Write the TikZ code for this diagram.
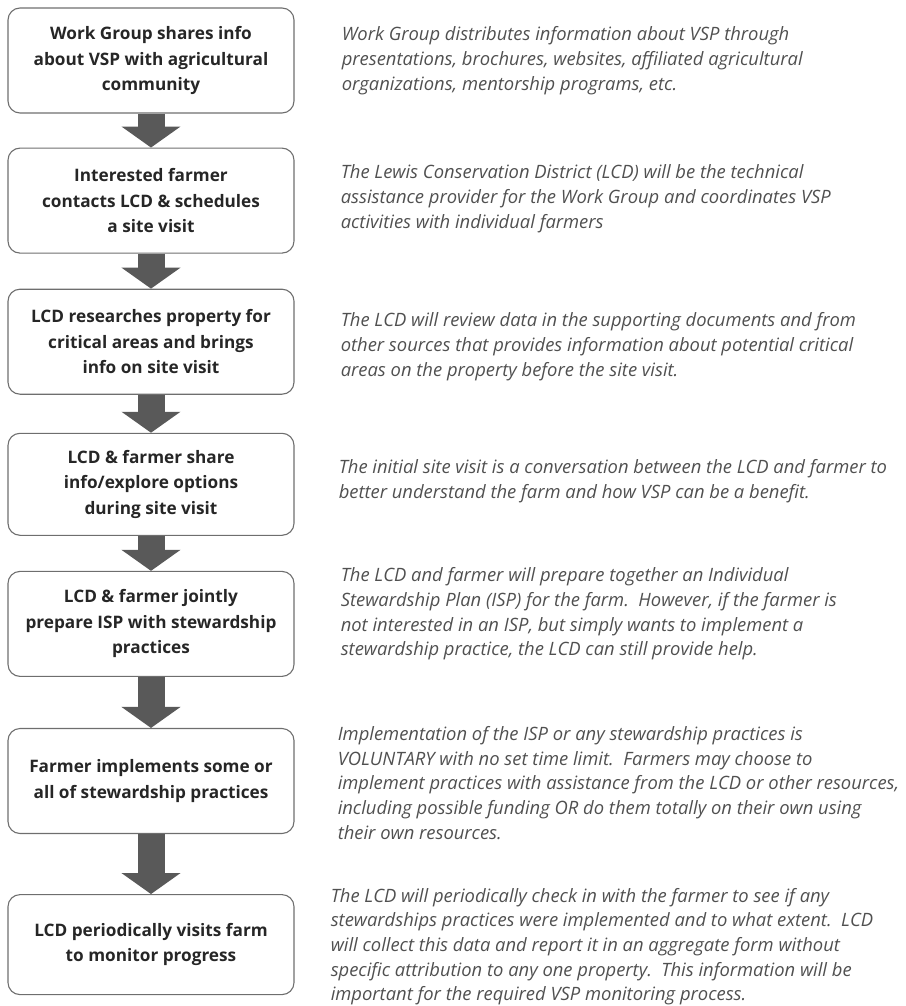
\documentclass[tikz,border=0pt]{standalone}
\usepackage{fontspec}
\setmainfont{Open Sans}
\usetikzlibrary{arrows.meta, positioning}

\definecolor{boxline}{HTML}{6E6E6E}
\definecolor{flowgray}{HTML}{595959}
\definecolor{notegray}{HTML}{505050}

\begin{document}
\begin{tikzpicture}
  [x=1pt, y=-1pt,
  % step box
  stepbox/.style = {rectangle,
    rounded corners = 12pt,
    draw = boxline, line width = 1.1pt,
    minimum width = 286pt,
    minimum height = 105pt,
    align = center, text = black!85,
    font = \fontsize{17.2}{25.5}\selectfont\bfseries},
  % note text
  note/.style = {align = left, inner sep = 0pt,
    text = notegray,
    font = \fontsize{18.4}{24.7}\selectfont\itshape},
  % fat arrow
  flow/.style = {draw = flowgray, line width = 27pt,
    -{Triangle[width = 58pt, length = 21pt]}},
  ]

  \useasboundingbox (0,0) rectangle (905,1006);

  % steps
  \node [stepbox] (share) at (151,60.5) {Work Group shares info\\about VSP with agricultural\\community};
  \node [stepbox, below = 34pt of share] (contact) {Interested farmer\\contacts LCD \& schedules\\a site visit};
  \node [stepbox, below = 35pt of contact] (research) {LCD researches property for\\critical areas and brings\\info on site visit};
  \node [stepbox, below = 38pt of research, minimum height = 102pt] (visit) {LCD \& farmer share\\info/explore options\\during site visit};
  \node [stepbox, below = 35pt of visit] (isp) {LCD \& farmer jointly\\prepare ISP with stewardship\\practices};
  \node [stepbox, below = 51pt of isp] (implement) {Farmer implements some or\\all of stewardship practices};
  \node [stepbox, below = 60pt of implement, minimum height = 100pt] (monitor) {LCD periodically visits farm\\to monitor progress};

  % notes
  \node [note, right = 47pt of share] (n-share) {Work Group distributes information about VSP through\\presentations, brochures, websites, affiliated agricultural\\organizations, mentorship programs, etc.};
  \node [note, right = 46pt of contact, yshift = 2pt] (n-contact) {The Lewis Conservation District (LCD) will be the technical\\assistance provider for the Work Group and coordinates VSP\\activities with individual farmers};
  \node [note, right = 46pt of research, yshift = -5pt] (n-research) {The LCD will review data in the supporting documents and from\\other sources that provides information about potential critical\\areas on the property before the site visit.};
  \node [note, right = 44pt of visit, yshift = 3pt] (n-visit) {The initial site visit is a conversation between the LCD and farmer to\\better understand the farm and how VSP can be a benefit.};
  \node [note, right = 46pt of isp, yshift = 10pt] (n-isp) {The LCD and farmer will prepare together an Individual\\Stewardship Plan (ISP) for the farm.\ \ However, if the farmer is\\not interested in an ISP, but simply wants to implement a\\stewardship practice, the LCD can still provide help.};
  \node [note, right = 43pt of implement, yshift = -2pt] (n-implement) {Implementation of the ISP or any stewardship practices is\\VOLUNTARY with no set time limit.\ \ Farmers may choose to\\implement practices with assistance from the LCD or other resources,\\including possible funding OR do them totally on their own using\\their own resources.};
  \node [note, right = 36pt of monitor, yshift = -2pt] (n-monitor) {The LCD will periodically check in with the farmer to see if any\\stewardships practices were implemented and to what extent.\ \ LCD\\will collect this data and report it in an aggregate form without\\specific attribution to any one property.\ \ This information will be\\important for the required VSP monitoring process.};

  % arrows
  \foreach \a/\b in {share/contact, contact/research, research/visit,
                     visit/isp, isp/implement, implement/monitor}
    \draw [flow] (\a.south) -- (\b.north);

\end{tikzpicture}
\end{document}
